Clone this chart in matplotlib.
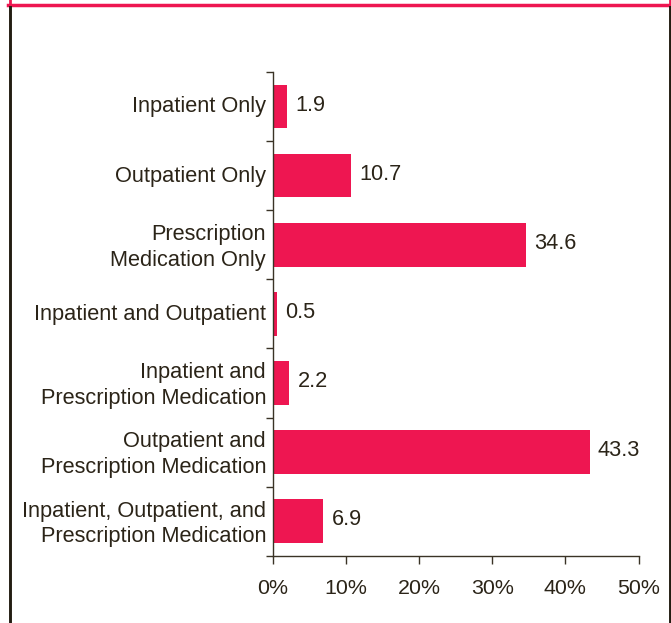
import matplotlib.pyplot as plt
from matplotlib.lines import Line2D

categories = [
    'Inpatient Only',
    'Outpatient Only',
    'Prescription\nMedication Only',
    'Inpatient and Outpatient',
    'Inpatient and\nPrescription Medication',
    'Outpatient and\nPrescription Medication',
    'Inpatient, Outpatient, and\nPrescription Medication',
]
values = [1.9, 10.7, 34.6, 0.5, 2.2, 43.3, 6.9]
x_ticks = [0, 10, 20, 30, 40, 50]
x_tick_labels = ['0%', '10%', '20%', '30%', '40%', '50%']

bar_color = '#EE1651'
text_color = '#2B2418'
axis_color = '#3A3326'

plt.rcParams['font.family'] = ['Liberation Sans', 'DejaVu Sans']
plt.rcParams['font.size'] = 15.7

fig = plt.figure(figsize=(6.71, 6.23), dpi=100)
ax = fig.add_axes([0.4069, 0.108, 0.5447, 0.7764])

n = len(categories)
pos = list(range(n))
ax.barh(pos, values, height=0.63, color=bar_color)

for p, v in zip(pos, values):
    ax.annotate(f'{v}', xy=(v, p), xytext=(6, 1), textcoords='offset points',
                va='center', ha='left', color=text_color, fontsize=15.7)

ax.set_xlim(0, 50)
ax.set_ylim(n - 0.5, -0.5)
ax.set_xticks(x_ticks)
ax.set_xticklabels(x_tick_labels, color=text_color, fontsize=15.4)

# boundary ticks between categories, labels at the centres
ax.set_yticks([i - 0.5 for i in range(n + 1)])
ax.set_yticklabels([])
ax.set_yticks([p - 0.03 for p in pos], minor=True)
ax.set_yticklabels(categories, minor=True, color=text_color, ha='right',
                   multialignment='right', linespacing=1.3)
ax.tick_params(axis='y', which='minor', length=0, pad=5)
ax.tick_params(axis='y', which='major', length=5, width=1, color=axis_color,
               direction='out')
ax.tick_params(axis='x', length=5.5, width=1, color=axis_color,
               direction='out', pad=11)

for side in ['top', 'right']:
    ax.spines[side].set_visible(False)
for side in ['left', 'bottom']:
    ax.spines[side].set_color(axis_color)
    ax.spines[side].set_linewidth(1)

# frame: pink bar on top, dark sides
W, H = 671, 623
def fx(px):
    return px / W
def fy(py):
    return 1 - py / H

fig.add_artist(Line2D([fx(9.7), fx(9.7)], [fy(0), fy(5)], color=bar_color, lw=2))
fig.add_artist(Line2D([fx(669.6), fx(669.6)], [fy(0), fy(5)], color=bar_color, lw=2))
fig.add_artist(Line2D([fx(8.3), fx(671)], [fy(5), fy(5)], color=bar_color, lw=2.5))
fig.add_artist(Line2D([fx(9.7), fx(9.7)], [fy(6.5), fy(623)], color='#231D12', lw=2.1))
fig.add_artist(Line2D([fx(669.6), fx(669.6)], [fy(6.5), fy(623)], color='#231D12', lw=2.1))

fig.savefig('out.png', dpi=100, facecolor='white')
